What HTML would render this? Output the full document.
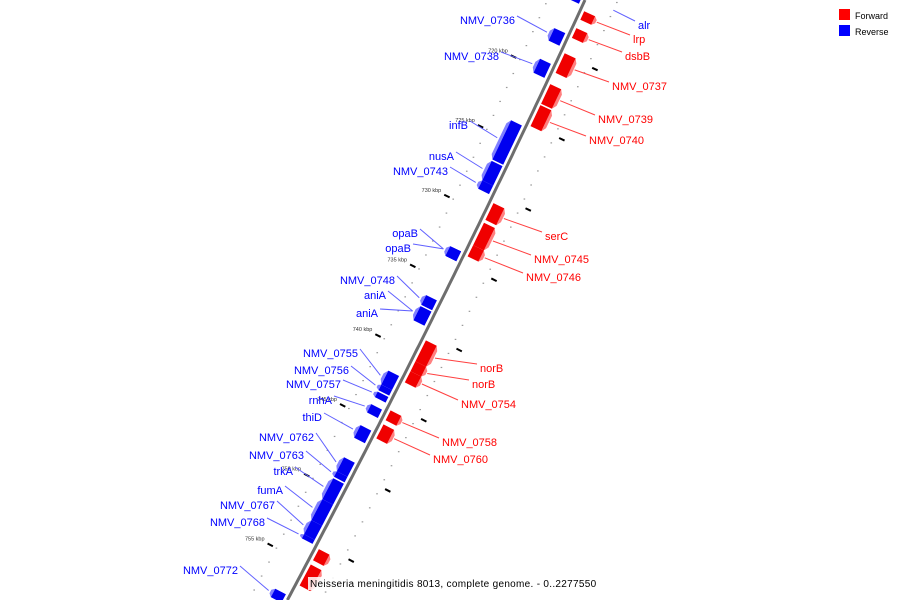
<!DOCTYPE html>
<html><head><meta charset="utf-8"><style>
html,body{margin:0;background:#fff;width:900px;height:600px;overflow:hidden}
svg{display:block}
text{font-family:"Liberation Sans","DejaVu Sans",sans-serif}
</style></head><body>
<svg id="chart" width="900" height="600" viewBox="0 0 900 600" xmlns="http://www.w3.org/2000/svg" overflow="hidden">
<g id="ticks"></g>
<path id="backbone" fill="none" stroke="#6e6e6e" stroke-width="3"/>
<g id="genes"></g>
<g id="labels"></g>
<g>
<rect x="839" y="9" width="11" height="11" fill="#f00"/>
<text x="855" y="19" font-size="9" fill="#000">Forward</text>
<rect x="839" y="25" width="11" height="11" fill="#00f"/>
<text x="855" y="35" font-size="9" fill="#000">Reverse</text>
</g>
<rect x="308" y="577" width="288" height="13" fill="#fff" opacity="0.85"/>
<text x="310" y="587" font-size="10" fill="#000" letter-spacing="0.3">Neisseria meningitidis 8013, complete genome. - 0..2277550</text>
</svg>
<script>
// data (kbp)
const revNames=["alr","NMV_0736","NMV_0738","infB","nusA","NMV_0743","opaB","opaB","NMV_0748","aniA","aniA","NMV_0755","NMV_0756","NMV_0757","rnhA","thiD","NMV_0762","NMV_0763","trkA","fumA","NMV_0767","NMV_0768","NMV_0772"];
const revStart=[714.0,717.2,719.4,723.8,726.7,728.1,732.8,732.8,736.3,737.1,737.1,741.7,742.7,743.2,744.1,745.6,747.9,748.9,749.4,750.9,752.4,753.4,757.3];
const revEnd=[715.1,718.1,720.4,726.6,728.1,728.7,733.5,733.5,737.0,738.1,738.1,742.7,743.1,743.6,744.7,746.5,748.9,749.3,750.9,752.4,753.4,753.7,757.9];
const fwdNames=["lrp","dsbB","NMV_0737","NMV_0739","NMV_0740","serC","NMV_0745","NMV_0746","norB","norB","NMV_0754","NMV_0758","NMV_0760","",""];
const fwdStart=[715.4,716.6,718.4,720.6,722.1,729.1,730.5,732.1,738.9,740.4,741.1,743.9,744.9,753.8,754.9];
const fwdEnd=[716.0,717.3,719.8,722.0,723.6,730.3,732.1,732.9,740.4,741.1,741.9,744.6,745.9,754.6,756.4];
const majorTicks=[720,725,730,735,740,745,750,755];
const tickLabels=["720 kbp","725 kbp","730 kbp","735 kbp","740 kbp","745 kbp","750 kbp","755 kbp"];
// label layout
const revLabX=[638,515,499,468,454,448,418,411,395,386,378,358,349,341,332,322,314,304,293,283,275,265,238];
const revLabY=[25,20,56,125,156,171,233,248,280,295,313,353,370,384,400,417,437,455,471,490,505,522,570];
const fwdLabX=[633,625,612,598,589,545,534,526,480,472,461,442,433];
const fwdLabY=[39,56,86,119,140,236,259,277,368,384,404,442,459];

const NS="http://www.w3.org/2000/svg";
function yOf(k){return 74+(k-720)*14;}
function xOf(y){return 585-0.46*y-0.00006*y*y;}
function pt(k,off){const y=yOf(k),x=xOf(y);const dx=-(0.46+0.00012*y),L=Math.hypot(dx,1);const nx=1/L,ny=-dx/L;return [x+nx*off,y+ny*off];}
function el(tag,attrs,parent){const e=document.createElementNS(NS,tag);for(const a in attrs)e.setAttribute(a,attrs[a]);parent.appendChild(e);return e;}
function poly(pts){return pts.map(p=>p[0].toFixed(1)+","+p[1].toFixed(1)).join(" ");}

let d="";for(let y=0;y<=600;y+=5){d+=(y===0?"M":"L")+xOf(y).toFixed(1)+" "+y+" ";}
document.getElementById("backbone").setAttribute("d",d);

const tg=document.getElementById("ticks");
for(let k=713;k<=759;k++){
  [-34,30].forEach(o=>{const p=pt(k,o);if(p[1]<0||p[1]>600)return;const c=el("rect",{x:p[0]-0.8,y:p[1]-0.6,width:1.6,height:1.2,fill:"#999"},tg);
  
  });
}
majorTicks.forEach((k,i)=>{
  const a=pt(k,-44),b=pt(k,-38);
  const l=el("line",{x1:a[0],y1:a[1],x2:b[0],y2:b[1],stroke:"#000","stroke-width":2},tg);
  
  
  const a2=pt(k-1.5,35),b2=pt(k-1.5,41);
  const r=el("line",{x1:a2[0],y1:a2[1],x2:b2[0],y2:b2[1],stroke:"#000","stroke-width":2},tg);
  
  
  const t=el("text",{x:a[0]-3,y:a[1]-3,"font-size":5.5,fill:"#333","text-anchor":"end"},tg);
  t.textContent=tickLabels[i];
  
  
});

const gg=document.getElementById("genes"),lg=document.getElementById("labels");
function gene(s,e,sign,main,light,name){
  const o1=4*sign,o2=16*sign,o3=19*sign;
  const g=el("g",{},gg);
  
  
  const bev=Math.min(0.3,(e-s)*0.3);
  el("polygon",{points:poly([pt(s,o2),pt(e,o2),pt(e-bev,o3),pt(s+bev,o3)]),fill:light},g);
  el("polygon",{points:poly([pt(s,o1),pt(e,o1),pt(e,o2),pt(s,o2)]),fill:main},g);
}
revStart.forEach((s,i)=>gene(s,revEnd[i],-1,"#0000f0","#8080ff",revNames[i]));
fwdStart.forEach((s,i)=>gene(s,fwdEnd[i],1,"#f00000","#ff8080",fwdNames[i]));

revNames.forEach((n,i)=>{
  const m=(revStart[i]+revEnd[i])/2;
  const right=i===0;
  const p=right?pt(m,30):pt(m,-21);
  const lx=revLabX[i],ly=revLabY[i];
  const l=el("line",{x1:right?lx-3:lx+2,y1:ly-4,x2:p[0],y2:p[1],stroke:"#6060ff","stroke-width":1},lg);
  
  
  const t=el("text",{x:lx,y:ly+4,"font-size":11,fill:"#0000ff","text-anchor":right?"start":"end"},lg);
  t.textContent=n;
  
  
});
fwdLabX.forEach((lx,i)=>{
  const n=fwdNames[i],m=(fwdStart[i]+fwdEnd[i])/2,p=pt(m,20),ly=fwdLabY[i];
  const l=el("line",{x1:p[0],y1:p[1],x2:lx-3,y2:ly-4,stroke:"#ff4040","stroke-width":1},lg);
  
  
  const t=el("text",{x:lx,y:ly+4,"font-size":11,fill:"#ff0000"},lg);
  t.textContent=n;
  
  
});
</script>
</body></html>
